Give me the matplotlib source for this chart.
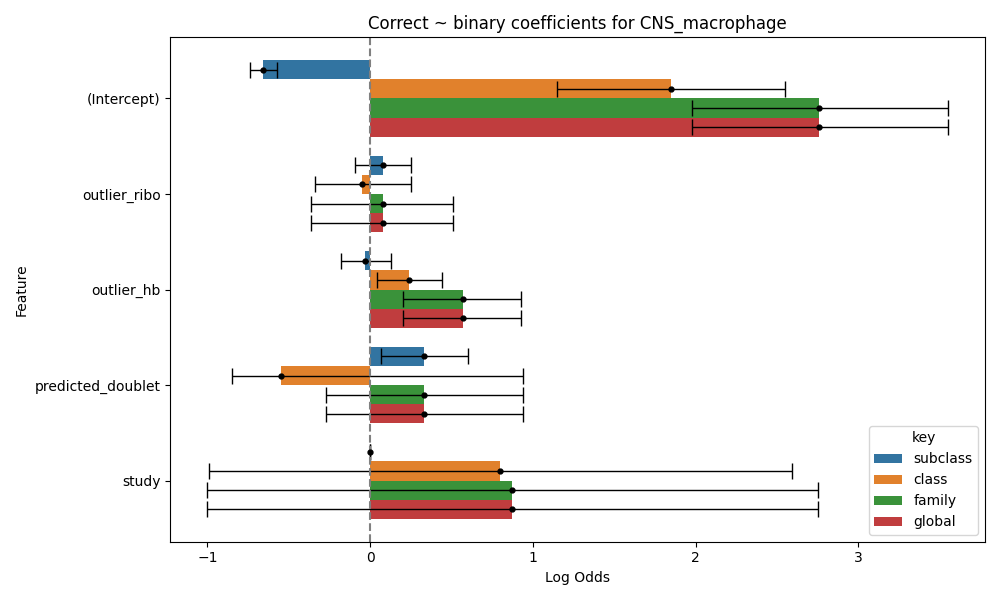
import numpy as np
import matplotlib.pyplot as plt

features = ['(Intercept)', 'outlier_ribo', 'outlier_hb', 'predicted_doublet', 'study']
keys = ['subclass', 'class', 'family', 'global']
colors = ['#3274a1', '#e1812c', '#3a923a', '#c03d3e']

coef = {
    'subclass': [-0.66, 0.08, -0.03, 0.33, 0.0],
    'class':    [1.85, -0.05, 0.24, -0.55, 0.80],
    'family':   [2.76, 0.08, 0.57, 0.33, 0.87],
    'global':   [2.76, 0.08, 0.57, 0.33, 0.87],
}
lo = {
    'subclass': [-0.74, -0.09, -0.18, 0.07, 0.0],
    'class':    [1.15, -0.34, 0.04, -0.85, -0.99],
    'family':   [1.98, -0.36, 0.20, -0.27, -1.00],
    'global':   [1.98, -0.36, 0.20, -0.27, -1.00],
}
hi = {
    'subclass': [-0.57, 0.25, 0.13, 0.60, 0.0],
    'class':    [2.55, 0.25, 0.44, 0.94, 2.59],
    'family':   [3.55, 0.51, 0.93, 0.94, 2.75],
    'global':   [3.55, 0.51, 0.93, 0.94, 2.75],
}

fig, ax = plt.subplots(figsize=(10, 6))
y = np.arange(len(features))
h = 0.2
for i, k in enumerate(keys):
    yy = y - 0.3 + i * h
    c = np.array(coef[k])
    ax.barh(yy, c, height=h, color=colors[i], label=k)
    err = [c - np.array(lo[k]), np.array(hi[k]) - c]
    ax.errorbar(c, yy, xerr=err, fmt='o', color='black', markersize=3.5,
                capsize=6, elinewidth=1)

ax.axvline(0, color='gray', linestyle='--')
ax.set_yticks(y)
ax.set_yticklabels(features)
ax.invert_yaxis()
ax.set_xlabel('Log Odds')
ax.set_ylabel('Feature')
ax.set_title('Correct ~ binary coefficients for CNS_macrophage')
ax.legend(title='key', loc='lower right')
plt.tight_layout()
plt.savefig('out.png', dpi=100)
